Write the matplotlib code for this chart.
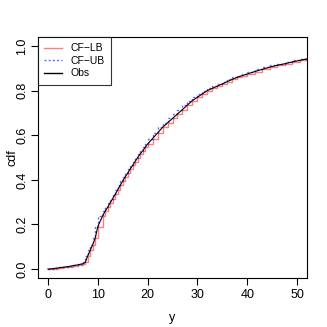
import matplotlib
matplotlib.use("Agg")
import matplotlib.pyplot as plt

plt.rcParams['font.family'] = ['Liberation Sans', 'DejaVu Sans']

# data
obs_x = [0, 1, 2, 3, 4, 5, 6, 7, 7.5, 8, 8.5, 9, 9.5, 10, 11, 11.5, 12, 12.5,
         13, 13.5, 14, 14.5, 15, 15.5, 16, 16.5, 17, 17.5, 18, 18.5, 19, 19.5,
         20, 21, 22, 23, 24, 25, 26, 27, 28, 29, 30, 31, 32, 33, 34, 35, 36,
         37, 38, 39, 40, 41.5, 43, 44.5, 46, 47.5, 49, 50.5, 52]
obs_cdf = [0.0, 0.002, 0.005, 0.008, 0.011, 0.015, 0.019, 0.024, 0.03, 0.06,
           0.085, 0.11, 0.14, 0.19, 0.24, 0.26, 0.278, 0.297, 0.316, 0.335,
           0.355, 0.375, 0.395, 0.413, 0.43, 0.448, 0.465, 0.482, 0.50, 0.515,
           0.53, 0.545, 0.56, 0.585, 0.61, 0.635, 0.655, 0.675, 0.695, 0.715,
           0.735, 0.755, 0.77, 0.785, 0.80, 0.81, 0.82, 0.83, 0.84, 0.85,
           0.86, 0.867, 0.874, 0.885, 0.895, 0.905, 0.913, 0.92, 0.928,
           0.935, 0.942]
lb_cdf = [0.0, 0.002, 0.005, 0.008, 0.011, 0.015, 0.019, 0.024, 0.03, 0.06,
          0.085, 0.11, 0.14, 0.19, 0.24, 0.26, 0.278, 0.297, 0.316, 0.335,
          0.355, 0.375, 0.395, 0.413, 0.43, 0.448, 0.465, 0.482, 0.50, 0.515,
          0.53, 0.545, 0.56, 0.585, 0.61, 0.635, 0.655, 0.675, 0.695, 0.715,
          0.735, 0.755, 0.77, 0.785, 0.80, 0.81, 0.82, 0.83, 0.84, 0.85,
          0.86, 0.867, 0.874, 0.885, 0.895, 0.905, 0.913, 0.92, 0.928,
          0.935, 0.942]
ub_cdf = [0.0, 0.002, 0.005, 0.008, 0.011, 0.015, 0.019, 0.024, 0.03, 0.06,
          0.085, 0.11, 0.14, 0.19, 0.24, 0.26, 0.278, 0.297, 0.316, 0.335,
          0.355, 0.375, 0.395, 0.413, 0.43, 0.448, 0.465, 0.482, 0.50, 0.515,
          0.53, 0.545, 0.56, 0.585, 0.61, 0.635, 0.655, 0.675, 0.695, 0.715,
          0.735, 0.755, 0.77, 0.785, 0.80, 0.81, 0.82, 0.83, 0.84, 0.85,
          0.86, 0.867, 0.874, 0.885, 0.895, 0.905, 0.913, 0.92, 0.928,
          0.935, 0.942]
x_ticks = [0, 10, 20, 30, 40, 50]
y_ticks = [0.0, 0.2, 0.4, 0.6, 0.8, 1.0]
y_tick_labels = ["0.0", "0.2", "0.4", "0.6", "0.8", "1.0"]

fig = plt.figure(figsize=(3.27, 3.27), dpi=100)
ax = fig.add_axes([38/327, 1-278/327, (307-38)/327, (278-37)/327])

ax.step(obs_x, lb_cdf, where='post', color='#FF0000', alpha=0.5, lw=1.0, label='CF\u2212LB')
ax.step(obs_x, ub_cdf, where='pre', color='#0000FF', alpha=0.6, lw=1.0,
        linestyle=(0, (1.5, 1.5)), label='CF\u2212UB')
ax.plot(obs_x, obs_cdf, color='black', lw=0.8, label='Obs')

ax.set_xlim(-2, 52)
ax.set_ylim(-0.04, 1.04)
ax.set_xticks(x_ticks)
ax.set_yticks(y_ticks)
ax.set_yticklabels(y_tick_labels, rotation=90, va='center')
ax.tick_params(direction='out', length=5, width=0.8, labelsize=9)
ax.tick_params(axis='y', pad=2)
ax.tick_params(axis='x', pad=3)
for s in ax.spines.values():
    s.set_linewidth(0.8)
ax.set_xlabel('y', fontsize=9)
ax.set_ylabel('cdf', fontsize=9, va='center')
ax.xaxis.set_label_coords((172 - 38) / 269, -(312 - 278) / 241)
ax.yaxis.set_label_coords(-(38 - 12) / 269, 0.5)

leg = ax.legend(loc='upper left', bbox_to_anchor=(0, 1), borderaxespad=0,
                fontsize=7.5, frameon=True, fancybox=False, handlelength=1.75,
                borderpad=0.6, labelspacing=0.25, handletextpad=0.8)
leg.get_frame().set_edgecolor('black')
leg.get_frame().set_linewidth(0.8)
for h in leg.get_lines():
    h.set_linewidth(1.0)

fig.savefig('out.png', dpi=100)
